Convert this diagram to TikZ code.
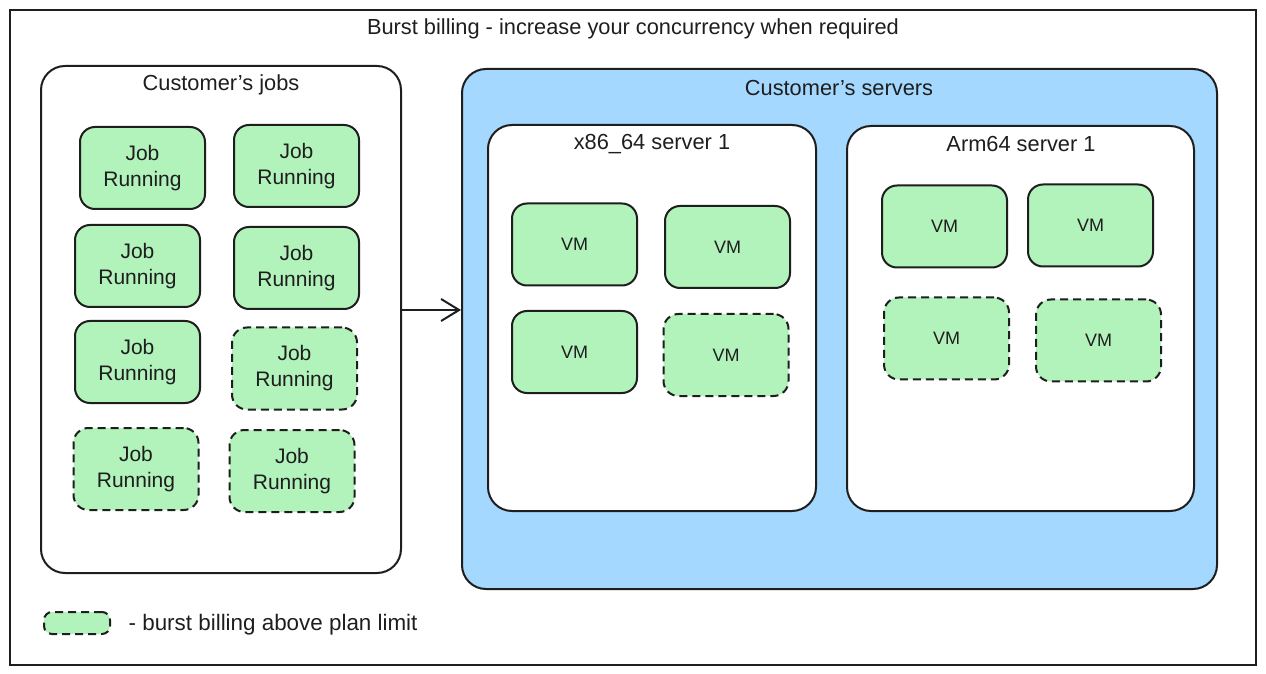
\documentclass[tikz,border=0pt]{standalone}
\usepackage{fontspec}
\setmainfont{Liberation Sans}
\usetikzlibrary{positioning}
\usetikzlibrary{arrows.meta}
\definecolor{ink}{HTML}{1E1E1E}
\definecolor{mint}{HTML}{B2F2BB}
\definecolor{sky}{HTML}{A5D8FF}

\begin{document}
\begin{tikzpicture}[x=0.5pt, y=-0.5pt, line width=1pt, draw=ink, text=ink,
  every node/.style={font=\fontsize{10.9}{13}\selectfont},
  group/.style={draw=ink, rounded corners=12pt, minimum width=#1},
  job/.style={draw=ink, fill=mint, rounded corners=7.5pt, minimum width=62.5pt, minimum height=41pt, align=center, inner sep=0pt, font=\fontsize{10.5}{13}\selectfont},
  burst/.style={job, dash pattern=on 4pt off 2.5pt},
  vm/.style={job, font=\fontsize{9}{11}\selectfont},
  vmburst/.style={burst, font=\fontsize{9}{11}\selectfont}]

\useasboundingbox (0,0) rectangle (1266,674);

% frame
\node (frame) [draw=ink, line width=0.8pt, minimum width=623pt, minimum height=327.5pt] at (633,337.5) {};
\node (title) at (633,29) {Burst billing - increase your concurrency when required};

% jobs
\node (jobs) [group=180pt, minimum height=253.5pt] at (221,319.5) {};
\node (jobstitle) at (221,85) {Customer's jobs};
\node (job1) [job] at (142.5,168) {Job\\Running};
\node (job2) [job] at (296.5,166) {Job\\Running};
\node (job3) [job] at (137.5,266) {Job\\Running};
\node (job4) [job] at (296.5,268) {Job\\Running};
\node (job5) [job] at (137.5,362) {Job\\Running};
\node (job6) [burst] at (294.5,368.5) {Job\\Running};
\node (job7) [burst] at (136,469) {Job\\Running};
\node (job8) [burst] at (292,471) {Job\\Running};

% servers
\node (servers) [group=377.5pt, fill=sky, minimum height=260pt] at (839.5,329) {};
\node (serverstitle) at (839,88) {Customer's servers};

% x86_64
\node (xserver) [group=164pt, fill=white, minimum height=193pt] at (652,318) {};
\node (xtitle) at (652,144) {x86\_64 server 1};
\node (xvm1) [vm] at (574.5,244.5) {VM};
\node (xvm2) [vm] at (727.5,247) {VM};
\node (xvm3) [vm] at (574.5,352) {VM};
\node (xvm4) [vmburst] at (726,355) {VM};

% arm64
\node (aserver) [group=173.5pt, fill=white, minimum height=192.5pt] at (1020.5,318.5) {};
\node (atitle) at (1021,144) {Arm64 server 1};
\node (avm1) [vm] at (944.5,226.5) {VM};
\node (avm2) [vm] at (1090.5,225.5) {VM};
\node (avm3) [vmburst] at (946.5,338.5) {VM};
\node (avm4) [vmburst] at (1098.5,340.5) {VM};

% arrow
\coordinate (tail) at (jobs.east |- 0,310);
\draw [-{Straight Barb[length=9pt, width=11pt]}, line width=1pt] (tail) -- (tail -| servers.west);

% legend
\node (key) [burst, rounded corners=4pt, minimum width=33pt, minimum height=11pt] at (77,623) {};
\node (keytext) [right=5pt of key, yshift=-1pt, font=\fontsize{11.2}{13}\selectfont] {- burst billing above plan limit};

\end{tikzpicture}
\end{document}
